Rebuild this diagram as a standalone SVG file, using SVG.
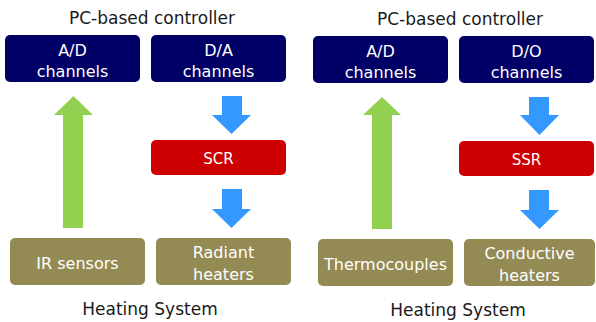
<svg xmlns="http://www.w3.org/2000/svg" width="596" height="322" viewBox="0 0 596 322">
<style>
text{font-family:"DejaVu Sans","Liberation Sans",sans-serif;text-anchor:middle}
.title{font-size:17px;fill:#1a1a1a}
.lbl{font-size:16px;fill:#ffffff}
.small{font-size:15px;fill:#ffffff}
.navy{fill:#000066}
.red{fill:#cc0000}
.olive{fill:#948a54}
.green{fill:#92d050}
.blue{fill:#3399ff}
</style>
<rect width="596" height="322" fill="#ffffff"/>
<text class="title" x="152" y="24">PC-based controller</text>
<text class="title" x="150" y="315">Heating System</text>
<text class="title" x="460" y="25">PC-based controller</text>
<text class="title" x="458" y="316">Heating System</text>
<g id="connectors">
<polygon class="green" points="73.5,96 93,115 83,115 83,228 63,228 63,115 54,115"/>
<polygon class="blue" points="222,96 242,96 242,115 251,115 231.5,134 212,115 222,115"/>
<polygon class="blue" points="222,189 242,189 242,209 251,209 231.5,228 212,209 222,209"/>
<polygon class="green" points="382,97 401,115 392,115 392,229 372,229 372,115 363,115"/>
<polygon class="blue" points="529,97 549,97 549,115 559,115 539.5,135 520,115 529,115"/>
<polygon class="blue" points="529,190 549,190 549,210 559,210 539.5,229 520,210 529,210"/>
</g>
<g id="ad1"><rect class="navy" x="5" y="35" width="135" height="47" rx="5"/><text class="lbl" x="72.5" y="56">A/D</text><text class="lbl" x="72.5" y="77">channels</text></g>
<g id="da1"><rect class="navy" x="151" y="35" width="135" height="47" rx="5"/><text class="lbl" x="218.5" y="56">D/A</text><text class="lbl" x="218.5" y="77">channels</text></g>
<g id="scr"><rect class="red" x="151" y="140" width="135" height="35" rx="5"/><text class="small" x="218.5" y="164">SCR</text></g>
<g id="ir"><rect class="olive" x="10" y="238" width="135" height="47" rx="5"/><text class="lbl" x="77.5" y="269">IR sensors</text></g>
<g id="radiant"><rect class="olive" x="156" y="238" width="135" height="47" rx="5"/><text class="lbl" x="223.5" y="258">Radiant</text><text class="lbl" x="223.5" y="280">heaters</text></g>
<g id="ad2"><rect class="navy" x="313" y="36" width="135" height="47" rx="5"/><text class="lbl" x="380.5" y="57">A/D</text><text class="lbl" x="380.5" y="78">channels</text></g>
<g id="do2"><rect class="navy" x="459" y="36" width="135" height="47" rx="5"/><text class="lbl" x="526.5" y="57">D/O</text><text class="lbl" x="526.5" y="78">channels</text></g>
<g id="ssr"><rect class="red" x="459" y="141" width="135" height="35" rx="5"/><text class="small" x="526.5" y="165">SSR</text></g>
<g id="thermo"><rect class="olive" x="318" y="239" width="135" height="47" rx="5"/><text class="lbl" x="385.5" y="270">Thermocouples</text></g>
<g id="conductive"><rect class="olive" x="464" y="239" width="131" height="47" rx="5"/><text class="lbl" x="529.5" y="259">Conductive</text><text class="lbl" x="529.5" y="281">heaters</text></g>
</svg>
